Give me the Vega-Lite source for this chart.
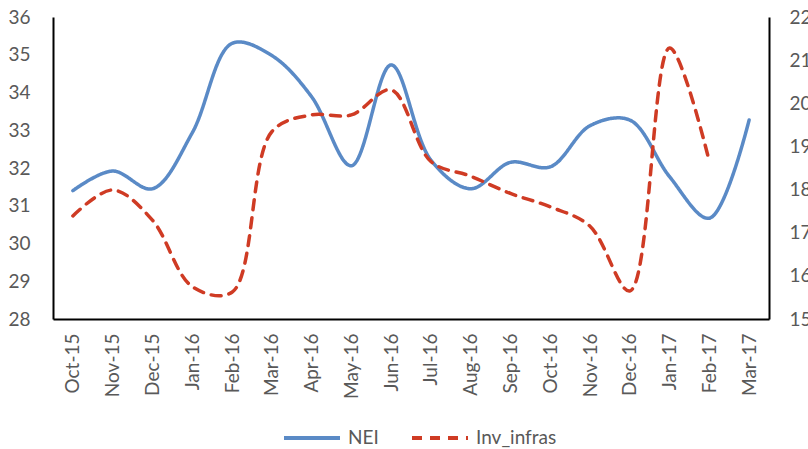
{
  "$schema": "https://vega.github.io/schema/vega-lite/v6.json",
  "width": 716,
  "height": 302,
  "autosize": {"type": "none"},
  "padding": {"left": 53, "top": 17, "right": 39, "bottom": 130},
  "background": "white",
  "config": {
    "view": {"stroke": null},
    "font": "Lato, sans-serif",
    "axis": {"grid": false, "ticks": false, "domainColor": "#000000", "domainWidth": 2, "labelColor": "#595959", "labelFont": "Lato, sans-serif", "labelFontSize": 19, "title": null}
  },
  "data": {
    "values": [
      {"month": "Oct-15", "series": "NEI", "value": 31.4},
      {"month": "Nov-15", "series": "NEI", "value": 31.92},
      {"month": "Dec-15", "series": "NEI", "value": 31.45},
      {"month": "Jan-16", "series": "NEI", "value": 32.93},
      {"month": "Feb-16", "series": "NEI", "value": 35.3},
      {"month": "Mar-16", "series": "NEI", "value": 34.98},
      {"month": "Apr-16", "series": "NEI", "value": 33.89},
      {"month": "May-16", "series": "NEI", "value": 32.06},
      {"month": "Jun-16", "series": "NEI", "value": 34.73},
      {"month": "Jul-16", "series": "NEI", "value": 32.21},
      {"month": "Aug-16", "series": "NEI", "value": 31.45},
      {"month": "Sep-16", "series": "NEI", "value": 32.15},
      {"month": "Oct-16", "series": "NEI", "value": 32.03},
      {"month": "Nov-16", "series": "NEI", "value": 33.12},
      {"month": "Dec-16", "series": "NEI", "value": 33.27},
      {"month": "Jan-17", "series": "NEI", "value": 31.77},
      {"month": "Feb-17", "series": "NEI", "value": 30.67},
      {"month": "Mar-17", "series": "NEI", "value": 33.27},
      {"month": "Oct-15", "series": "Inv_infras", "value": 17.39},
      {"month": "Nov-15", "series": "Inv_infras", "value": 17.99},
      {"month": "Dec-15", "series": "Inv_infras", "value": 17.29},
      {"month": "Jan-16", "series": "Inv_infras", "value": 15.75},
      {"month": "Feb-16", "series": "Inv_infras", "value": 15.62},
      {"month": "Mar-16", "series": "Inv_infras", "value": 19.34},
      {"month": "Apr-16", "series": "Inv_infras", "value": 19.73},
      {"month": "May-16", "series": "Inv_infras", "value": 19.73},
      {"month": "Jun-16", "series": "Inv_infras", "value": 20.31},
      {"month": "Jul-16", "series": "Inv_infras", "value": 18.65},
      {"month": "Aug-16", "series": "Inv_infras", "value": 18.31},
      {"month": "Sep-16", "series": "Inv_infras", "value": 17.91},
      {"month": "Oct-16", "series": "Inv_infras", "value": 17.6},
      {"month": "Nov-16", "series": "Inv_infras", "value": 17.15},
      {"month": "Dec-16", "series": "Inv_infras", "value": 15.65},
      {"month": "Jan-17", "series": "Inv_infras", "value": 21.28},
      {"month": "Feb-17", "series": "Inv_infras", "value": 18.65}
    ]
  },
  "encoding": {
    "x": {
      "field": "month",
      "type": "ordinal",
      "sort": null,
      "scale": {"type": "point", "padding": 0.5},
      "axis": {"labelAngle": -90, "labelPadding": 14, "title": null}
    },
    "color": {
      "field": "series",
      "type": "nominal",
      "scale": {"domain": ["NEI", "Inv_infras"], "range": ["#5A8AC6", "#CF3B24"]},
      "legend": {
        "title": null,
        "orient": "none",
        "direction": "horizontal",
        "legendX": 229,
        "legendY": 391,
        "padding": 0,
        "symbolType": "stroke",
        "symbolSize": 3136,
        "symbolStrokeWidth": 4,
        "labelFontSize": 19,
        "labelColor": "#595959",
        "labelOffset": 6,
        "columnPadding": 25
      }
    },
    "strokeDash": {
      "field": "series",
      "type": "nominal",
      "scale": {"domain": ["NEI", "Inv_infras"], "range": [[1, 0], [10, 8]]},
      "legend": null
    }
  },
  "layer": [
    {
      "transform": [{"filter": "datum.series === 'NEI'"}],
      "mark": {"type": "line", "interpolate": "catmull-rom", "strokeWidth": 3.5, "strokeCap": "round"},
      "encoding": {
        "y": {
          "field": "value",
          "type": "quantitative",
          "scale": {"domain": [28, 36], "nice": false, "zero": false},
          "axis": {"orient": "left", "values": [28, 29, 30, 31, 32, 33, 34, 35, 36], "labelPadding": 23, "title": null}
        }
      }
    },
    {
      "transform": [{"filter": "datum.series === 'Inv_infras'"}],
      "mark": {"type": "line", "interpolate": "catmull-rom", "strokeWidth": 3.5, "strokeCap": "round"},
      "encoding": {
        "y": {
          "field": "value",
          "type": "quantitative",
          "scale": {"domain": [15, 22], "nice": false, "zero": false},
          "axis": {"orient": "right", "values": [15, 16, 17, 18, 19, 20, 21, 22], "labelPadding": 20, "title": null}
        }
      }
    }
  ],
  "resolve": {"scale": {"y": "independent"}}
}
